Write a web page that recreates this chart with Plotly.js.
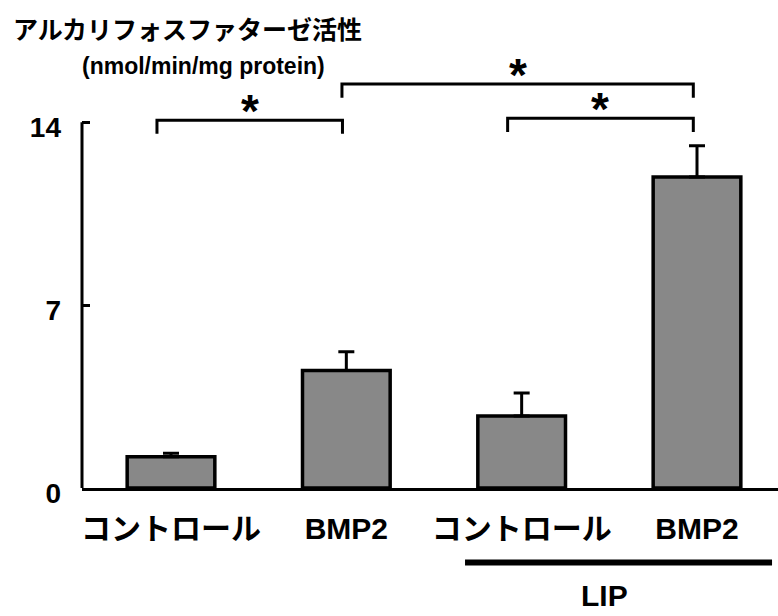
<!DOCTYPE html>
<html><head><meta charset="utf-8">
<script src="https://cdn.plot.ly/plotly-3.0.1.min.js"></script>
<style>html,body{margin:0;padding:0;background:#fff}#chart{width:778px;height:616px}</style>
</head><body><div id="chart"></div>
<script>
// ---- data ----
const groups = ['コントロール', 'BMP2', 'コントロール', 'BMP2'];
const lipGroup = [false, false, true, true];
const alpValues = [1.2, 4.5, 2.76, 11.9];
const alpErrors = [0.13, 0.72, 0.88, 1.2];
const yTickVals = [0, 7, 14];
const yTickText = ['0', '7', '14'];
const compA = [0, 1, 2];
const compB = [1, 3, 3];
const compMark = ['*', '*', '*'];
const titleText = 'アルカリフォスファターゼ活性';
const unitText = '(nmol/min/mg protein)';
const lipText = 'LIP';

// ---- layout helpers ----
const latin = '"Liberation Sans", Arial, "Noto Sans CJK JP", sans-serif';
const cjk = '"Noto Sans CJK JP", "Liberation Sans", sans-serif';
const xIdx = groups.map((_, i) => i);
const compLevel = [14.08, 15.46, 14.15];
const compLeftOff = [-0.08, -0.025, -0.08];
const compRightOff = [-0.022, -0.021, -0.021];
const drop = 0.52;

const shapes = [];
const annotations = [];
// y-axis line (0..14)
shapes.push({type: 'line', xref: 'paper', yref: 'y', x0: 0, x1: 0, y0: 0, y1: yTickVals[yTickVals.length - 1],
  line: {color: '#000', width: 3}});
compA.forEach((a, k) => {
  const x0 = a + compLeftOff[k], x1 = compB[k] + compRightOff[k], yl = compLevel[k];
  shapes.push({type: 'path', xref: 'x', yref: 'y',
    path: `M${x0},${yl - drop} L${x0},${yl} L${x1},${yl} L${x1},${yl - drop}`,
    line: {color: '#000', width: 3}});
  annotations.push({xref: 'x', yref: 'y', x: (x0 + x1) / 2, y: yl + 0.36, text: compMark[k], showarrow: false,
    xanchor: 'center', yanchor: 'middle', font: {family: latin, size: 46, weight: 'bold', color: '#000'}});
});
// LIP bracket line under the LIP groups
const lipIdx = xIdx.filter(i => lipGroup[i]);
const lipL = lipIdx[0] - 0.323, lipR = lipIdx[lipIdx.length - 1] + 0.428;
shapes.push({type: 'line', xref: 'x', yref: 'paper', x0: lipL, x1: lipR, y0: -0.178, y1: -0.178,
  line: {color: '#000', width: 6}});
annotations.push({xref: 'x', yref: 'paper', x: (lipIdx[0] + lipIdx[lipIdx.length - 1]) / 2 - 0.025, y: -0.258,
  text: lipText, showarrow: false, xanchor: 'center', yanchor: 'middle',
  font: {family: latin, size: 30, weight: 'bold', color: '#000'}});
annotations.push({xref: 'paper', yref: 'paper', x: -0.003, y: 1.0096, text: unitText, showarrow: false,
  xanchor: 'left', yanchor: 'middle', font: {family: latin, size: 23, weight: 'bold', color: '#000'}});

const trace = {
  type: 'bar', x: xIdx, y: alpValues, width: 0.5,
  marker: {color: '#888888', line: {color: '#000', width: 3.5}},
  error_y: {type: 'data', symmetric: false, array: alpErrors, arrayminus: alpErrors.map(() => 0),
    color: '#000', thickness: 3, width: 8},
  hoverinfo: 'skip', showlegend: false
};

const layout = {
  width: 778, height: 616,
  margin: {l: 82, r: 0, t: 70, b: 128, pad: 0},
  paper_bgcolor: '#fff', plot_bgcolor: '#fff',
  showlegend: false,
  title: {text: titleText, xref: 'container', yref: 'container', x: 13 / 778, xanchor: 'left',
    y: 1 - 30.5 / 616, yanchor: 'middle', font: {family: cjk, size: 25, weight: 'bold', color: '#000'}},
  xaxis: {range: [-0.5076, 3.462], tickvals: xIdx, ticktext: groups, showline: true, linewidth: 3,
    linecolor: '#000', ticks: '', showgrid: false, zeroline: false, ticklabelstandoff: 12,
    tickfont: {family: latin, size: 30, weight: 'bold', color: '#000'}, fixedrange: true},
  yaxis: {range: [0, 16], tickvals: yTickVals, ticktext: yTickText, showline: false, ticks: 'inside',
    ticklen: 8, tickwidth: 3, tickcolor: '#000', showgrid: false, zeroline: false, ticklabelstandoff: 20,
    ticklabelshift: 5,
    tickfont: {family: latin, size: 28, weight: 'bold', color: '#000'}, fixedrange: true},
  shapes: shapes, annotations: annotations
};
Plotly.newPlot('chart', [trace], layout, {staticPlot: true, displayModeBar: false});
</script></body></html>
